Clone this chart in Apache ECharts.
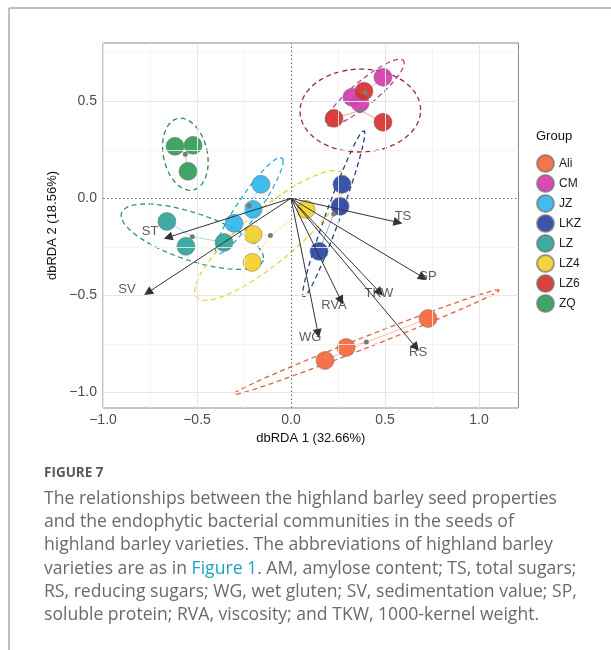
<!DOCTYPE html>
<html>
<head>
<meta charset="utf-8">
<script src="https://cdn.jsdelivr.net/npm/echarts@6/dist/echarts.min.js"></script>
<style>
  html, body { margin: 0; padding: 0; background: #ffffff; }
  #chart { width: 611px; height: 650px; }
</style>
</head>
<body>
<div id="chart"></div>
<script>
// dbRDA site scores per highland barley variety (axis 1, axis 2)
const groups = ['Ali', 'CM', 'JZ', 'LKZ', 'LZ', 'LZ4', 'LZ6', 'ZQ'];
const siteAli = [[0.729, -0.619], [0.293, -0.768], [0.181, -0.835]];
const siteCM  = [[0.489, 0.624], [0.324, 0.521], [0.367, 0.490]];
const siteJZ  = [[-0.160, 0.072], [-0.202, -0.057], [-0.303, -0.129]];
const siteLKZ = [[0.271, 0.072], [0.261, -0.041], [0.149, -0.273]];
const siteLZ  = [[-0.660, -0.119], [-0.559, -0.247], [-0.356, -0.227]];
const siteLZ4 = [[-0.202, -0.186], [-0.207, -0.330], [0.080, -0.057]];
const siteLZ6 = [[0.388, 0.552], [0.229, 0.412], [0.489, 0.392]];
const siteZQ  = [[-0.617, 0.268], [-0.521, 0.273], [-0.548, 0.139]];
const siteScores = [siteAli, siteCM, siteJZ, siteLKZ, siteLZ, siteLZ4, siteLZ6, siteZQ];

// fitted seed-property vectors
const vectorNames = ['TS', 'SP', 'TKW', 'RS', 'RVA', 'WG', 'SV', 'ST'];
const vectorX = [0.569, 0.702, 0.473, 0.665, 0.266, 0.144, -0.761, -0.654];
const vectorY = [-0.124, -0.407, -0.485, -0.768, -0.526, -0.696, -0.485, -0.201];

// axis ticks
const xTicks = [-1.0, -0.5, 0.0, 0.5, 1.0];
const yTicks = [-1.0, -0.5, 0.0, 0.5];
const xMinorGrid = [-0.75, -0.25, 0.25, 0.75];
const yMinorGrid = [-0.75, -0.25, 0.25, 0.75];

// styling
const groupColors = {
  Ali: '#F4683C', CM: '#D43DAE', JZ: '#30B6EC', LKZ: '#2B47A5',
  LZ: '#2EA59A', LZ4: '#F4CF2A', LZ6: '#D8302E', ZQ: '#2F9E5A'
};
const ellipseColors = {
  Ali: '#E0623A', CM: '#B13FA2', JZ: '#2AA8DA', LKZ: '#21408F',
  LZ: '#2A938A', LZ4: '#E8D038', LZ6: '#A5262B', ZQ: '#2B8A55'
};
const labelOffsets = {
  TS: [5, -6], SP: [5, -1], TKW: [-1, 1], RS: [2, 5],
  RVA: [-7, 5], WG: [-8, 4], SV: [-21, -3], ST: [-18, -6]
};

function centroid(pts) {
  const n = pts.length;
  return [pts.reduce((s, p) => s + p[0], 0) / n, pts.reduce((s, p) => s + p[1], 0) / n];
}

// 95% normal-theory ellipse from the sample covariance of each group
function ellipsePath(pts, segments) {
  const n = pts.length;
  const c = centroid(pts);
  let sxx = 0, syy = 0, sxy = 0;
  pts.forEach(p => {
    const dx = p[0] - c[0], dy = p[1] - c[1];
    sxx += dx * dx; syy += dy * dy; sxy += dx * dy;
  });
  sxx /= (n - 1); syy /= (n - 1); sxy /= (n - 1);
  const a = Math.sqrt(sxx);
  const b = sxy / a;
  const d = Math.sqrt(Math.max(syy - b * b, 1e-12));
  const r = Math.sqrt(5.991465); // chi-square(0.95, df = 2)
  const out = [];
  for (let i = 0; i <= segments; i++) {
    const t = 2 * Math.PI * i / segments;
    const u = Math.cos(t), v = Math.sin(t);
    out.push([c[0] + r * a * u, c[1] + r * (b * u + d * v)]);
  }
  return out;
}

const minus = s => s.replace('-', '\u2212');
const series = [];

// panel grid lines and zero reference lines
series.push({
  type: 'line', data: [], z: 1, silent: true,
  markLine: {
    silent: true, symbol: 'none', animation: false, label: { show: false },
    emphasis: { disabled: true },
    data: [
      ...xMinorGrid.map(v => ({ xAxis: v, lineStyle: { color: '#F2F2F2', width: 0.8, type: 'solid' } })),
      ...yMinorGrid.map(v => ({ yAxis: v, lineStyle: { color: '#F2F2F2', width: 0.8, type: 'solid' } })),
      ...xTicks.filter(v => v !== 0).map(v => ({ xAxis: v, lineStyle: { color: '#E6E6E6', width: 1, type: 'solid' } })),
      ...yTicks.filter(v => v !== 0).map(v => ({ yAxis: v, lineStyle: { color: '#E6E6E6', width: 1, type: 'solid' } })),
      { xAxis: 0, lineStyle: { color: '#666', width: 1, type: [1.5, 2.5] } },
      { yAxis: 0, lineStyle: { color: '#666', width: 1, type: [1.5, 2.5] } }
    ]
  }
});

groups.forEach((g, gi) => {
  const pts = siteScores[gi];
  const c = centroid(pts);
  // confidence ellipse
  series.push({
    name: g + ' ellipse', type: 'line', data: ellipsePath(pts, 90), z: 2,
    showSymbol: false, symbol: 'none', silent: true, smooth: false,
    lineStyle: { color: ellipseColors[g], width: 1.3, type: [5, 3.5] }
  });
  // spider segments from the group centroid
  series.push({
    name: g + ' spider', type: 'lines', coordinateSystem: 'cartesian2d', z: 3, silent: true,
    data: pts.map(p => ({ coords: [c, p] })),
    lineStyle: { color: groupColors[g], width: 1, opacity: 0.45 }
  });
});

groups.forEach((g, gi) => {
  series.push({
    name: g, type: 'scatter', data: siteScores[gi], z: 4,
    symbol: 'circle', symbolSize: 18,
    itemStyle: { color: groupColors[g], borderColor: 'rgba(110,110,110,0.7)', borderWidth: 0.8, opacity: 0.92 }
  });
});

// group centroids
series.push({
  name: 'centroid', type: 'scatter', z: 5, silent: true,
  data: siteScores.map(centroid), symbolSize: 5,
  itemStyle: { color: '#7A7A7A', opacity: 1 }
});

// property vectors
series.push({
  name: 'vectors', type: 'lines', coordinateSystem: 'cartesian2d', z: 6, silent: true,
  data: vectorNames.map((n, i) => ({ coords: [[0, 0], [vectorX[i], vectorY[i]]] })),
  symbol: ['none', 'triangle'], symbolSize: 9,
  lineStyle: { color: '#333333', width: 1, opacity: 1 }
});
series.push({
  name: 'vector labels', type: 'scatter', z: 7, silent: true,
  symbolSize: 0,
  data: vectorNames.map((n, i) => ({
    value: [vectorX[i], vectorY[i]], name: n,
    label: { offset: labelOffsets[n] }
  })),
  label: {
    show: true, position: 'inside', formatter: p => p.name,
    fontFamily: 'Liberation Sans', fontSize: 13, color: '#333'
  }
});

const chart = echarts.init(document.getElementById('chart'), null, { renderer: 'canvas' });
chart.setOption({
  animation: false,
  backgroundColor: '#ffffff',
  grid: {
    left: 103, top: 43, width: 415.5, height: 365,
    show: true, borderColor: '#8A8A8A', borderWidth: 1, backgroundColor: '#ffffff'
  },
  xAxis: {
    type: 'value', min: -1.0, max: 1.21,
    name: 'dbRDA 1 (32.66%)', nameLocation: 'middle', nameGap: 23,
    nameTextStyle: { fontFamily: 'Liberation Sans', fontSize: 13, color: '#111' },
    axisLine: { show: false },
    splitLine: { show: false },
    axisTick: { show: true, customValues: xTicks, length: 4, lineStyle: { color: '#333' } },
    axisLabel: {
      customValues: xTicks, margin: 5, fontFamily: 'Liberation Sans', fontSize: 14, color: '#4D4D4D',
      formatter: v => minus(v.toFixed(1))
    }
  },
  yAxis: {
    type: 'value', min: -1.08, max: 0.8,
    name: 'dbRDA 2 (18.56%)', nameLocation: 'middle', nameGap: 38, nameRotate: 90,
    nameTextStyle: { fontFamily: 'Liberation Sans', fontSize: 13, color: '#111' },
    axisLine: { show: false },
    splitLine: { show: false },
    axisTick: { show: true, customValues: yTicks, length: 4, lineStyle: { color: '#333' } },
    axisLabel: {
      customValues: yTicks, margin: 6, fontFamily: 'Liberation Sans', fontSize: 14, color: '#4D4D4D',
      formatter: v => minus(v.toFixed(1))
    }
  },
  legend: {
    data: groups, orient: 'vertical', left: 531, top: 149,
    icon: 'circle', itemWidth: 17, itemHeight: 17, itemGap: 1,
    textStyle: { fontFamily: 'Liberation Sans', fontSize: 12, color: '#222' },
    selectedMode: false
  },
  graphic: [
    { type: 'line', shape: { x1: 9, y1: 8, x2: 611, y2: 8 }, style: { stroke: '#ABABAB', lineWidth: 1.5 } },
    { type: 'line', shape: { x1: 9, y1: 8, x2: 9, y2: 650 }, style: { stroke: '#ABABAB', lineWidth: 1.5 } },
    { type: 'text', left: 536, top: 130, style: { text: 'Group', fontFamily: 'Liberation Sans', fontSize: 13, fill: '#111' } },
    { type: 'text', left: 44, top: 466, style: { text: 'FIGURE 7', fontFamily: 'Open Sans', fontWeight: 'bold', fontSize: 13.5, fill: '#595959' } },
    {
      type: 'text', left: 44, top: 487,
      style: {
        fontFamily: 'Open Sans', fontSize: 17.6, lineHeight: 23.3, fill: '#6A6A6A',
        text: [
          'The relationships between the highland barley seed properties',
          'and the endophytic bacterial communities in the seeds of',
          'highland barley varieties. The abbreviations of highland barley',
          'varieties are as in {link|Figure 1}. AM, amylose content; TS, total sugars;',
          'RS, reducing sugars; WG, wet gluten; SV, sedimentation value; SP,',
          'soluble protein; RVA, viscosity; and TKW, 1000-kernel weight.'
        ].join('\n'),
        rich: { link: { fill: '#1BA3BD', fontFamily: 'Open Sans', fontSize: 17.6, lineHeight: 23.3 } }
      }
    }
  ],
  series: series
});
</script>
</body>
</html>
